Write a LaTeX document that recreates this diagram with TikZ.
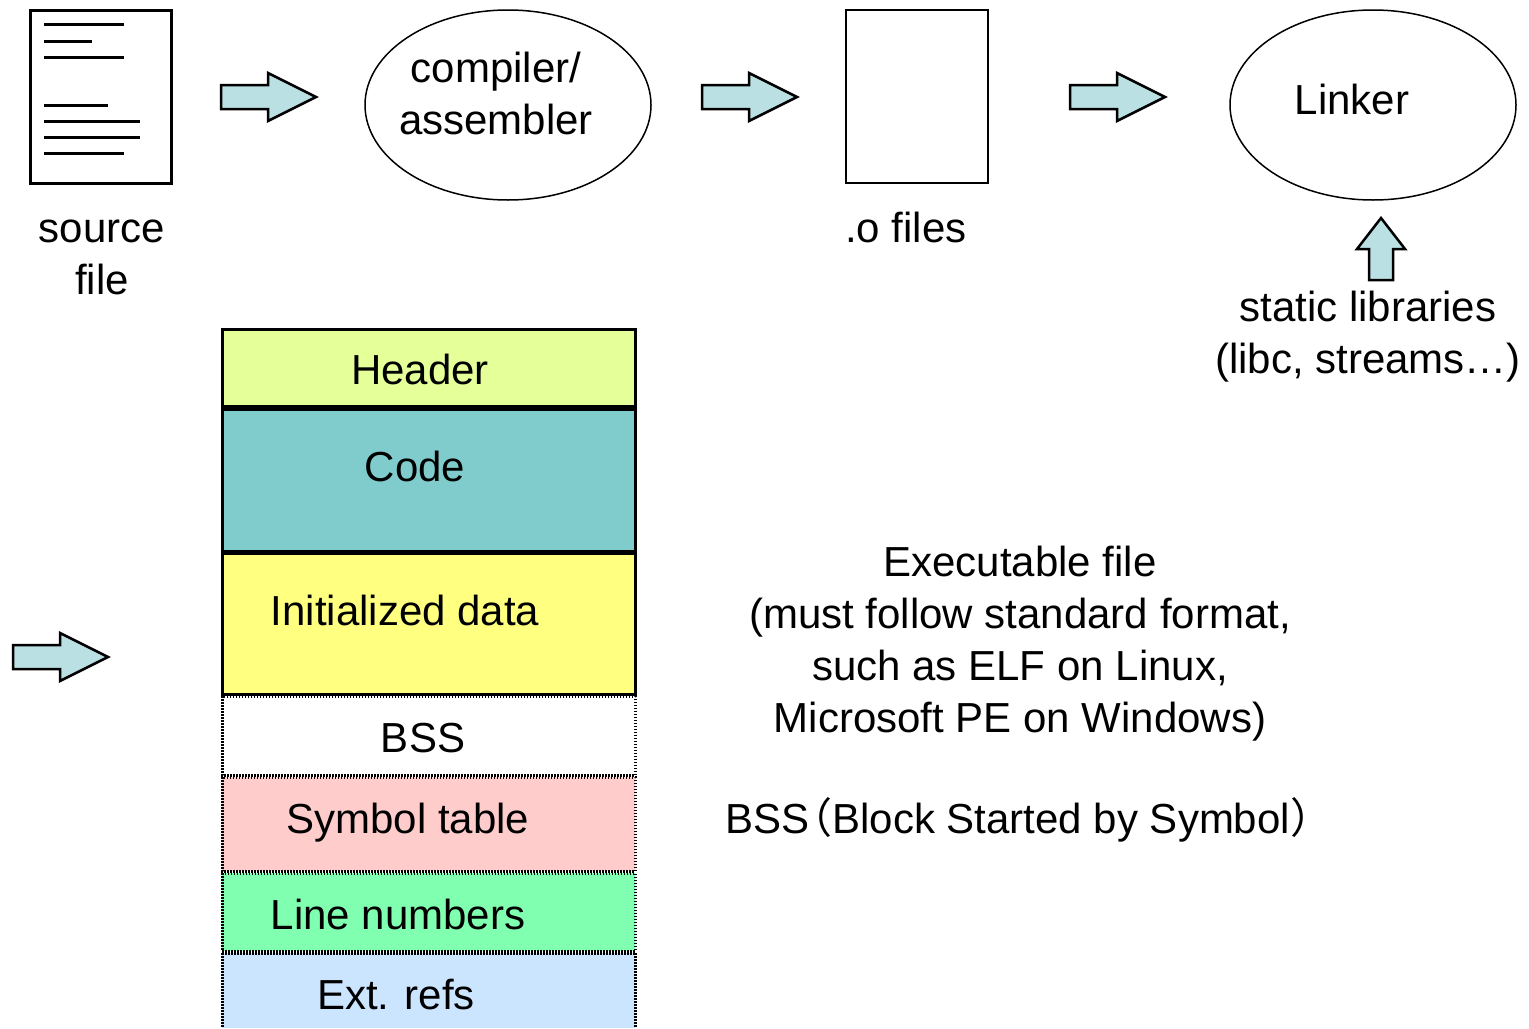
\documentclass[tikz,border=0pt]{standalone}
\usepackage{fontspec}
\setmainfont{Liberation Sans}
\newfontfamily\cjk{Noto Sans CJK SC}
\definecolor{arrowfill}{HTML}{BBE0E3}
\definecolor{hdrfill}{HTML}{E5FF99}
\definecolor{codefill}{HTML}{80CCCC}
\definecolor{initfill}{HTML}{FFFF80}
\definecolor{symfill}{HTML}{FFCCCC}
\definecolor{linefill}{HTML}{80FFB0}
\definecolor{extfill}{HTML}{CCE5FF}
\begin{document}
\begin{tikzpicture}[x=0.5pt,y=-0.5pt,
  every node/.style={font=\fontsize{21}{26}\selectfont, inner sep=0pt, align=center},
  solidseg/.style={draw=black, line width=1.5pt},
  dotseg/.style={draw=black, line width=1.5pt, dash pattern=on 0.75pt off 0.75pt},
  fileline/.style={line width=1.5pt},
  blockarrow/.style={draw=black, line width=1.25pt, fill=arrowfill, line join=miter},
  pics/rarrow/.style={code={
    \path[blockarrow] (0,-12) -- (47,-12) -- (47,-24) -- (95,0) -- (47,24) -- (47,12) -- (0,12) -- cycle;}},
  pics/uarrow/.style={code={
    \path[blockarrow] (-12,0) -- (-12,-31) -- (-24,-31) -- (0,-62) -- (24,-31) -- (12,-31) -- (12,0) -- cycle;}}
]
\useasboundingbox (0,0) rectangle (1529,1028);

% source file page with text lines
\draw[line width=1.5pt] (30,10) rectangle (171,183);
\foreach \y/\w in {24/124, 41/92, 57/124, 105/108, 121/140, 137/140, 153/124}
  \draw[fileline] (44,\y) -- (\w,\y);
\node (src) at (102,257) {source\\file};

% compiler / assembler
\draw[line width=0.75pt] (508,105) ellipse [x radius=143, y radius=95];
\node (comp) at (496,93) {compiler/\\assembler};

% object files
\draw[line width=1pt] (846,10) rectangle (988,183);
\node (obj) at (906,227) {.o files};

% linker
\draw[line width=0.75pt] (1373,105) ellipse [x radius=143, y radius=95];
\node (link) at (1352,99) {Linker};

\node (libs) at (1368,337) {static libraries\\(libc, streams…)};

% flow arrows
\pic at (221,97) {rarrow};
\pic at (702,97) {rarrow};
\pic at (1070,97) {rarrow};
\pic at (13,657) {rarrow};
\pic at (1381,280) {uarrow};

% executable layout
\path[fill=hdrfill] (222,329) rectangle (635,406);
\path[fill=codefill] (222,409) rectangle (635,551);
\path[fill=initfill] (222,553) rectangle (635,694);
\path[fill=white] (222,696) rectangle (635,775);
\path[fill=symfill] (222,777) rectangle (635,871);
\path[fill=linefill] (222,873) rectangle (635,951);
\path[fill=extfill] (222,953) rectangle (635,1028);

\draw[solidseg] (222,329) rectangle (635,406);
\draw[solidseg] (222,409) rectangle (635,551);
\draw[solidseg] (222,553) rectangle (635,694);
\draw[dotseg] (222,696) rectangle (635,775);
\draw[dotseg] (222,777) rectangle (635,871);
\draw[dotseg] (222,873) rectangle (635,951);
\draw[dotseg] (222,953) -- (635,953);
\draw[dotseg] (222,953) -- (222,1028);
\draw[dotseg] (635,953) -- (635,1028);

\node (hdr) at (420,369) {Header};
\node (code) at (415,466) {Code};
\node (init) at (405,610) {Initialized data};
\node (bss) at (423,738) {BSS};
\node (sym) at (408,823) {Symbol table};
\node (lines) at (398,914) {Line numbers};
\node (ext) at (396,994) {Ext. refs};

\node (exe) at (1020,644) {Executable file\\(must follow standard format,\\such as ELF on Linux,\\Microsoft PE on Windows)};
\node[anchor=west] (bssdef) at (725,820) {BSS{\cjk\kern-0.45em （}Block Started by Symbol{\cjk ）}};
\end{tikzpicture}
\end{document}
